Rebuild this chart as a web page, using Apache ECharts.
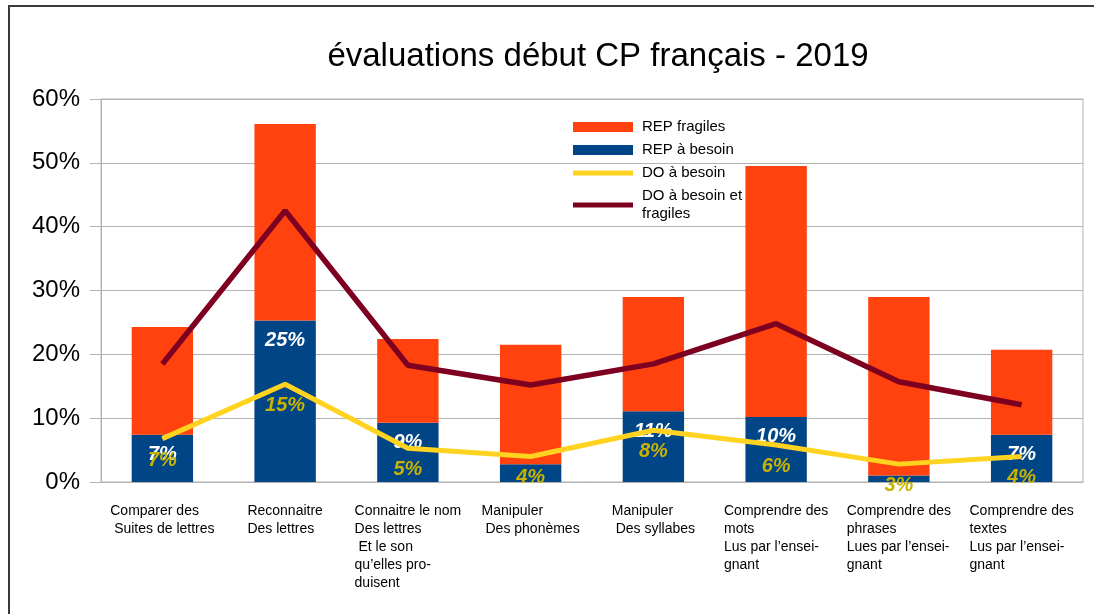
<!DOCTYPE html>
<html>
<head>
<meta charset="utf-8">
<script src="https://cdn.jsdelivr.net/npm/echarts@6/dist/echarts.min.js"></script>
<style>
  body { margin: 0; background: #fff; }
  #main { width: 1097px; height: 614px; }
  #frame { position: absolute; left: 8px; top: 5px; width: 1084px; height: 620px;
    border-left: 2px solid #3a3a3a; border-top: 2px solid #3a3a3a; pointer-events: none; }
</style>
</head>
<body>
<div id="main"></div>
<div id="frame"></div>
<script>
const categories = [
  "Comparer des\n Suites de lettres",
  "Reconnaitre\nDes lettres",
  "Connaitre le nom\nDes lettres\n Et le son\nqu’elles pro-\nduisent",
  "Manipuler\n Des phonèmes",
  "Manipuler\n Des syllabes",
  "Comprendre des\nmots\nLus par l’ensei-\ngnant",
  "Comprendre des\nphrases\nLues par l’ensei-\ngnant",
  "Comprendre des\ntextes\nLus par l’ensei-\ngnant"
];
// values in %
const repBesoin = [7.4, 25.3, 9.3, 2.8, 11.1, 10.2, 1.0, 7.4];
const repFragiles = [16.9, 30.8, 13.1, 18.7, 17.9, 39.3, 28.0, 13.3];
const doBesoin = [6.8, 15.3, 5.3, 4.0, 8.1, 5.8, 2.8, 4.0];
const doBesoinFragiles = [18.5, 42.5, 18.3, 15.2, 18.5, 24.8, 15.7, 12.1];

const font = "Liberation Sans";
const thinBar = "path://M0,0M0,2.5h60v5h-60zM60,10";

var myChart = echarts.init(document.getElementById("main"));
myChart.setOption({
  animation: false,
  textStyle: { fontFamily: font },
  title: {
    text: "évaluations début CP français - 2019",
    left: 593, top: 35, textAlign: "center",
    textStyle: { fontSize: 33, fontWeight: "normal", color: "#000", fontFamily: font }
  },
  legend: {
    orient: "vertical",
    left: 573, top: 118, padding: 0,
    itemWidth: 60, itemHeight: 10, itemGap: 5,
    textStyle: { fontSize: 15, color: "#000", lineHeight: 18, padding: [0, 0, 0, 4] },
    formatter: function (n) { return n === "DO à besoin et fragiles" ? "DO à besoin et\nfragiles" : n; },
    data: [
      { name: "REP fragiles", icon: "rect" },
      { name: "REP à besoin", icon: "rect" },
      { name: "DO à besoin", icon: thinBar },
      { name: "DO à besoin et fragiles", icon: thinBar }
    ]
  },
  grid: { left: 101, right: 14, top: 99, bottom: 132, show: true, borderColor: "#b3b3b3", borderWidth: 1 },
  xAxis: {
    type: "category",
    data: categories,
    axisLine: { lineStyle: { color: "#b3b3b3" } },
    axisTick: { length: 10, lineStyle: { color: "#b3b3b3" } },
    axisLabel: {
      interval: 0, margin: 20, color: "#000", fontSize: 14, lineHeight: 18,
      formatter: function (v) { return v.split("\n").map(function (l) { return "{l|" + l + "}"; }).join("\n"); },
      rich: { l: { align: "left", fontSize: 14, lineHeight: 18, color: "#000" } }
    }
  },
  yAxis: {
    type: "value", min: 0, max: 60, interval: 10,
    axisLine: { show: true, lineStyle: { color: "#b3b3b3" } },
    axisTick: { show: true, length: 11, lineStyle: { color: "#b3b3b3" } },
    splitLine: { lineStyle: { color: "#b3b3b3" } },
    axisLabel: { formatter: "{value}%", fontSize: 24, color: "#000", margin: 21 }
  },
  series: [
    {
      name: "REP à besoin", type: "bar", stack: "rep", barWidth: "50%",
      data: repBesoin,
      itemStyle: { color: "#004586" },
      label: {
        show: true, position: "insideTop", distance: 10,
        formatter: function (p) { return p.value < 5 ? "" : Math.round(p.value) + "%"; },
        color: "#fff", fontSize: 20, fontWeight: "bold", fontStyle: "italic"
      }
    },
    {
      name: "REP fragiles", type: "bar", stack: "rep", barWidth: "50%",
      data: repFragiles,
      itemStyle: { color: "#ff420e" }
    },
    {
      name: "DO à besoin", type: "line", data: doBesoin,
      symbol: "circle", symbolSize: 1, showSymbol: true,
      lineStyle: { color: "#ffd320", width: 5, cap: "butt" },
      itemStyle: { color: "#ffd320" },
      label: {
        show: true, position: "bottom", distance: 11,
        formatter: function (p) { return Math.round(p.value) + "%"; },
        color: "#c9b200", fontSize: 20, fontWeight: "bold", fontStyle: "italic"
      },
      z: 3
    },
    {
      name: "DO à besoin et fragiles", type: "line", data: doBesoinFragiles,
      symbol: "none",
      lineStyle: { color: "#7e0021", width: 5.5, cap: "butt" },
      itemStyle: { color: "#7e0021" },
      z: 3
    }
  ]
});
</script>
</body>
</html>
